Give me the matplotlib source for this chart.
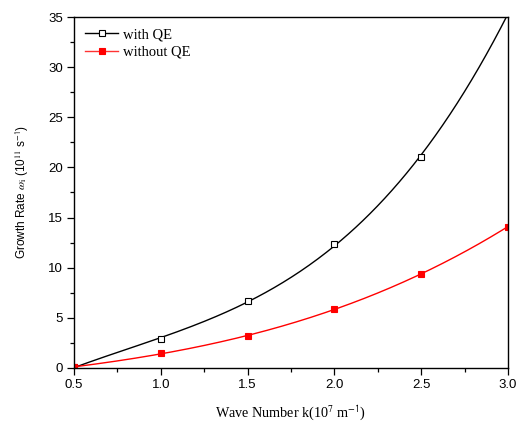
import numpy as np
import matplotlib
matplotlib.use("Agg")
import matplotlib.pyplot as plt
from matplotlib.ticker import MultipleLocator, FormatStrFormatter

# Wave number k (10^7 m^-1)
k = [0.5, 1.0, 1.5, 2.0, 2.5, 3.0]
# Growth rate (10^11 s^-1)
with_qe = [0.1, 2.85, 6.65, 12.4, 21.0, 35.4]
without_qe = [0.1, 1.45, 3.2, 5.85, 9.4, 14.1]

plt.rcParams["mathtext.fontset"] = "stix"

fig = plt.figure(figsize=(5.16, 4.22), dpi=100)
ax = fig.add_axes([0.1434, 0.128, 0.8411, 0.8317])

# smooth cubic fit through each series
kk = np.linspace(min(k), max(k), 300)
fit_qe = np.polyval(np.polyfit(k, with_qe, 3), kk)
fit_no = np.polyval(np.polyfit(k, without_qe, 3), kk)

ax.plot(kk, fit_qe, color="black", lw=1.0)
ax.plot(kk, fit_no, color="red", lw=1.0)
ax.plot(k, with_qe, ls="none", marker="s", ms=5, mfc="white", mec="black", mew=0.8)
ax.plot(k, without_qe, ls="none", marker="s", ms=5, mfc="red", mec="red", mew=0.8)

# legend entries: line with the marker in the middle
ax.plot([], [], color="black", lw=1.0, marker="s", ms=5, mfc="white", mec="black",
        mew=0.8, label="with QE")
ax.plot([], [], color="#ff3333", lw=1.0, marker="s", ms=5, mfc="red", mec="red",
        mew=0.8, label="without QE")
ax.legend(loc="upper left", frameon=False, numpoints=1, handlelength=2.3,
          prop={"family": "Liberation Serif", "size": 10.5},
          borderaxespad=0.35, handletextpad=0.3, labelspacing=0.3)

ax.set_xlim(0.5, 3.0)
ax.set_ylim(0, 35)
ax.xaxis.set_major_locator(MultipleLocator(0.5))
ax.xaxis.set_minor_locator(MultipleLocator(0.25))
ax.yaxis.set_major_locator(MultipleLocator(5))
ax.yaxis.set_minor_locator(MultipleLocator(2.5))
ax.xaxis.set_major_formatter(FormatStrFormatter("%.1f"))
ax.tick_params(which="both", direction="out", top=False, right=False, width=0.9)
ax.tick_params(which="major", length=5, pad=3)
ax.tick_params(which="minor", length=3)
for lbl in ax.get_xticklabels() + ax.get_yticklabels():
    lbl.set_fontfamily("Liberation Sans")
    lbl.set_fontsize(9.5)
for s in ax.spines.values():
    s.set_linewidth(1.0)

ax.set_xlabel("Wave Number k(10$^{7}$ m$^{\\mathsf{-1}}$)", family="Liberation Serif",
              fontsize=10.2, labelpad=9)
ax.set_ylabel("Growth Rate $\\omega_{\\mathrm{i}}$ (10$^{11}$ s$^{\\mathsf{-1}}$)",
              family="Liberation Sans", fontsize=8.5, labelpad=12)

fig.savefig("out.png", dpi=100)
